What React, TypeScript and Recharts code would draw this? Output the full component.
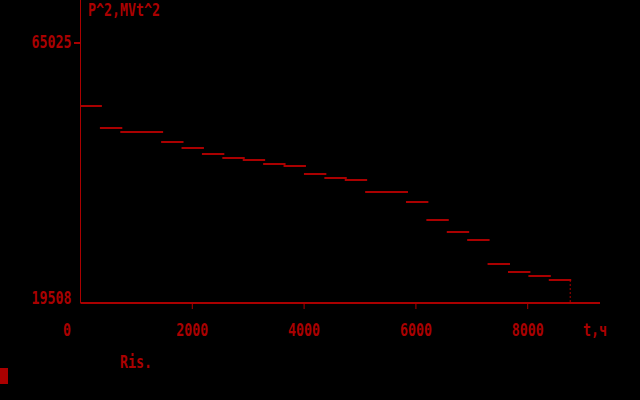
import React from 'react';
import { LineChart, Line, XAxis, YAxis, ReferenceLine } from 'recharts';

// ---- data ----
const HOURS_PER_STEP = 365; // 24 steps of 365 h = 8760 h
const LOAD_STEPS = [
  54000, 50140, 49440, 49440, 47690, 46640, 45590, 44890, 44540, 43840, 43490, 42090,
  41390, 41040, 38940, 38940, 37190, 34040, 31940, 30540, 26340, 24930, 24230, 23530,
];
const X_TICKS = [0, 2000, 4000, 6000, 8000];
const Y_TICKS = [19508, 65025];
const X_MAX = 9293;
const Y_MIN = 19508;
const Y_MAX = 72553;
const TITLE_Y = 'P^2,MVt^2';
const TITLE_X = 't,ч';
const CAPTION = 'Ris.';

const RED = '#AA0000';
const TOTAL_HOURS = LOAD_STEPS.length * HOURS_PER_STEP;

const points: { x: number; y: number | null }[] = [];
LOAD_STEPS.forEach((v, i) => {
  points.push({ x: i * HOURS_PER_STEP, y: v });
  points.push({ x: (i + 1) * HOURS_PER_STEP, y: v });
  points.push({ x: (i + 1) * HOURS_PER_STEP, y: null });
});

const DosText = ({ x, y, text, anchor = 'start', size = 18 }: { x: number; y: number; text: string; anchor?: string; size?: number }) => (
  <text
    x={x}
    y={y}
    textLength={text.length * 8}
    lengthAdjust="spacingAndGlyphs"
    fontFamily="DejaVu Sans Mono"
    fontSize={size}
    fontWeight="bold"
    fill={RED}
    textAnchor={anchor as any}
  >
    {text}
  </text>
);

const XTick = (props: any) => {
  const { x, y, payload } = props;
  const v = payload.value;
  if (v === 0) {
    return <DosText x={x - 13.5} y={y + 33} text={String(v)} anchor="middle" />;
  }
  return (
    <g>
      <line x1={x} x2={x} y1={y + 1} y2={y + 6} stroke={RED} strokeWidth={1} />
      <DosText x={x} y={y + 33} text={String(v)} anchor="middle" />
    </g>
  );
};

const YTick = (props: any) => {
  const { x, y, payload } = props;
  const v = payload.value;
  if (v === Y_MIN) {
    return <DosText x={x - 9} y={y + 1} text={String(v)} anchor="end" />;
  }
  return (
    <g>
      <line x1={x - 6.5} x2={x} y1={y} y2={y} stroke={RED} strokeWidth={2} />
      <DosText x={x - 9} y={y + 5} text={String(v)} anchor="end" />
    </g>
  );
};

export default function App() {
  return (
    <div style={{ position: 'fixed', top: 0, left: 0, width: 640, height: 400, background: '#000', overflow: 'hidden' }}>
      <LineChart width={640} height={400} data={points} margin={{ top: 0, right: 40, bottom: 0, left: 0.5 }}>
        <XAxis
          dataKey="x"
          type="number"
          domain={[0, X_MAX]}
          ticks={X_TICKS}
          interval={0}
          height={97}
          axisLine={{ stroke: RED, strokeWidth: 2 }}
          tickLine={false}
          tickSize={0}
          tickMargin={0}
          tick={<XTick />}
          allowDataOverflow
        />
        <YAxis
          type="number"
          domain={[Y_MIN, Y_MAX]}
          ticks={Y_TICKS}
          interval={0}
          width={80}
          axisLine={{ stroke: RED, strokeWidth: 1 }}
          tickLine={false}
          tickSize={0}
          tickMargin={0}
          tick={<YTick />}
          allowDataOverflow
        />
        <Line
          dataKey="y"
          type="linear"
          stroke={RED}
          strokeWidth={2}
          strokeLinecap="square"
          dot={false}
          activeDot={false}
          connectNulls={false}
          isAnimationActive={false}
        />
        <ReferenceLine
          segment={[
            { x: TOTAL_HOURS, y: LOAD_STEPS[LOAD_STEPS.length - 1] },
            { x: TOTAL_HOURS, y: Y_MIN },
          ]}
          stroke={RED}
          strokeWidth={1}
          strokeDasharray="2 2"
        />
      </LineChart>
      <svg width={640} height={400} style={{ position: 'absolute', top: 0, left: 0, pointerEvents: 'none' }}>
        <DosText x={88} y={16} text={TITLE_Y} size={17} />
        <DosText x={583} y={336} text={TITLE_X} />
        <DosText x={120} y={368} text={CAPTION} />
      </svg>
      <div style={{ position: 'absolute', left: 0, top: 368, width: 8, height: 16, background: RED }} />
    </div>
  );
}
